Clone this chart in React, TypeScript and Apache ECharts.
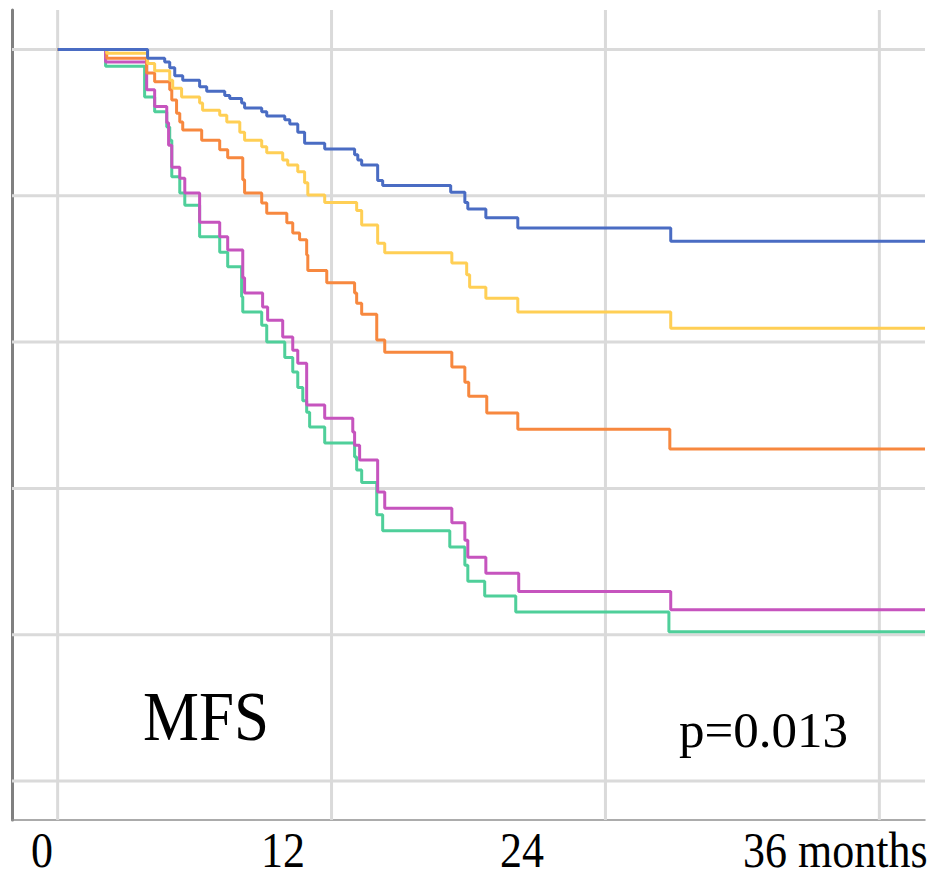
import React, { useEffect, useRef } from "react";
import * as echarts from "echarts";

// ---- data (months, survival probability) ----
const blueTimes = [0, 3.94, 4.69, 4.91, 5.13, 5.48, 6.22, 6.53, 7.32, 7.54, 8.06, 8.19, 8.94, 9.16, 9.95, 10.17, 10.52, 10.82, 11.7, 13.01, 13.15, 13.32, 14.02, 14.24, 17.22, 17.84, 17.97, 18.76, 20.16, 26.86, 38];
const blueSurv = [1, 0.988, 0.983, 0.975, 0.964, 0.958, 0.949, 0.943, 0.937, 0.933, 0.927, 0.92, 0.915, 0.909, 0.904, 0.898, 0.887, 0.872, 0.864, 0.856, 0.849, 0.842, 0.821, 0.814, 0.805, 0.791, 0.782, 0.77, 0.756, 0.738, 0.738];

const yellowTimes = [0, 2.15, 3.94, 4.25, 4.91, 5.04, 5.43, 6.22, 6.35, 7.1, 7.41, 7.98, 8.19, 8.94, 9.16, 9.86, 10.08, 10.52, 10.82, 10.96, 11.7, 13.1, 13.32, 14.02, 14.33, 17.27, 17.92, 18.05, 18.76, 20.16, 26.86, 38];
const yellowSurv = [1, 0.995, 0.981, 0.971, 0.958, 0.947, 0.935, 0.927, 0.917, 0.91, 0.901, 0.887, 0.876, 0.867, 0.859, 0.849, 0.842, 0.833, 0.818, 0.801, 0.791, 0.78, 0.76, 0.735, 0.722, 0.708, 0.692, 0.675, 0.66, 0.641, 0.619, 0.619];

const orangeTimes = [0, 2.15, 3.9, 4.25, 4.91, 5.0, 5.21, 5.35, 5.48, 6.31, 7.1, 7.45, 8.11, 8.19, 8.94, 9.16, 10.04, 10.3, 10.6, 10.91, 10.96, 11.79, 13.01, 13.1, 13.32, 13.98, 14.33, 17.27, 17.84, 18.01, 18.8, 20.16, 26.82, 38];
const orangeSurv = [1, 0.988, 0.968, 0.956, 0.945, 0.931, 0.913, 0.901, 0.89, 0.876, 0.863, 0.852, 0.822, 0.804, 0.79, 0.776, 0.763, 0.749, 0.74, 0.719, 0.698, 0.681, 0.667, 0.653, 0.638, 0.603, 0.586, 0.566, 0.545, 0.526, 0.503, 0.481, 0.454, 0.454];

const magentaTimes = [0, 2.1, 3.9, 4.25, 4.78, 4.86, 5.0, 5.35, 5.57, 6.22, 7.1, 7.45, 8.11, 8.19, 8.98, 9.2, 9.86, 10.3, 10.52, 10.91, 11.7, 12.93, 13.01, 13.23, 14.02, 14.33, 17.27, 17.84, 17.97, 18.76, 20.2, 26.86, 38];
const magentaSurv = [1, 0.983, 0.945, 0.922, 0.9, 0.869, 0.839, 0.824, 0.804, 0.764, 0.744, 0.726, 0.688, 0.667, 0.648, 0.63, 0.607, 0.589, 0.571, 0.514, 0.496, 0.477, 0.459, 0.439, 0.395, 0.373, 0.353, 0.329, 0.306, 0.284, 0.259, 0.234, 0.234];

const greenTimes = [0, 2.1, 3.81, 4.25, 4.78, 4.91, 5.0, 5.35, 5.57, 6.22, 7.1, 7.45, 8.06, 8.11, 8.94, 9.16, 9.95, 10.3, 10.52, 10.74, 10.91, 11.04, 11.7, 13.01, 13.1, 13.32, 13.98, 14.24, 17.18, 17.84, 17.97, 18.71, 20.07, 26.78, 38];
const greenSurv = [1, 0.977, 0.935, 0.915, 0.894, 0.876, 0.826, 0.804, 0.787, 0.744, 0.723, 0.703, 0.662, 0.641, 0.623, 0.6, 0.579, 0.559, 0.538, 0.52, 0.504, 0.484, 0.462, 0.443, 0.425, 0.408, 0.364, 0.342, 0.32, 0.295, 0.273, 0.253, 0.231, 0.204, 0.204];

const xGridValues = [0, 12, 24, 36];
const yGridValues = [0, 0.2, 0.4, 0.6, 0.8, 1.0];
const xTickLabels = ["0", "12", "24", "36 months"];
const titleText = "MFS";
const pValueText = "p=0.013";

// ---- layout / style ----
const X_MIN = -2;
const X_MAX = 38;
const Y_MIN = -0.0533;
const Y_MAX = 1.054;
const labelX = [42, 283, 522, 743];
const labelAlign = ["center", "center", "center", "left"];

const curves = [
  { name: "green", t: greenTimes, s: greenSurv, color: "#4fcf9a" },
  { name: "magenta", t: magentaTimes, s: magentaSurv, color: "#c654be" },
  { name: "orange", t: orangeTimes, s: orangeSurv, color: "#f7883f" },
  { name: "yellow", t: yellowTimes, s: yellowSurv, color: "#ffcf55" },
  { name: "blue", t: blueTimes, s: blueSurv, color: "#4a6cc3" },
];

const SERIF = '"Liberation Serif", "Times New Roman", serif';

export default function App() {
  const ref = useRef<HTMLDivElement>(null);

  useEffect(() => {
    if (!ref.current) return;
    const chart = echarts.init(ref.current, null, { renderer: "svg" });

    const gridSeries: any[] = [];
    xGridValues.forEach((v, i) => {
      gridSeries.push({
        type: "line",
        name: "vgrid" + i,
        data: [
          [v, Y_MIN],
          [v, Y_MAX],
        ],
        showSymbol: false,
        silent: true,
        z: 1,
        lineStyle: { color: "#dadada", width: 3 },
      });
    });
    yGridValues.forEach((v, i) => {
      gridSeries.push({
        type: "line",
        name: "hgrid" + i,
        data: [
          [X_MIN, v],
          [X_MAX, v],
        ],
        showSymbol: false,
        silent: true,
        z: 1,
        lineStyle: { color: "#dadada", width: 3 },
      });
    });

    const curveSeries = curves.map((c, i) => ({
      type: "line",
      name: c.name,
      step: "end",
      data: c.t.map((t, j) => [t, c.s[j]]),
      showSymbol: false,
      silent: true,
      z: 3 + i,
      lineStyle: { color: c.color, width: 3 },
    }));

    const graphics: any[] = xTickLabels.map((txt, i) => ({
      type: "text",
      x: labelX[i],
      y: 850,
      scaleY: 1.15,
      style: {
        text: txt,
        font: `44px ${SERIF}`,
        fill: "#000",
        textAlign: labelAlign[i],
        textVerticalAlign: "middle",
        align: labelAlign[i],
        verticalAlign: "middle",
      },
    }));
    graphics.push({
      type: "text",
      x: 206,
      y: 716,
      scaleY: 1.12,
      style: {
        text: titleText,
        font: `63px ${SERIF}`,
        fill: "#000",
        textAlign: "center",
        textVerticalAlign: "middle",
        align: "center",
        verticalAlign: "middle",
      },
    });
    graphics.push({
      type: "text",
      x: 679,
      y: 730,
      style: {
        text: pValueText,
        font: `51px ${SERIF}`,
        fill: "#000",
        textAlign: "left",
        textVerticalAlign: "middle",
        align: "left",
        verticalAlign: "middle",
      },
    });

    chart.setOption({
      animation: false,
      backgroundColor: "#ffffff",
      grid: { left: 12, top: 10, right: 9, bottom: 59, containLabel: false },
      xAxis: {
        type: "value",
        min: X_MIN,
        max: X_MAX,
        splitLine: { show: false },
        axisTick: { show: false },
        axisLabel: { show: false },
        axisLine: { show: true, onZero: false, lineStyle: { color: "#909090", width: 1.5 } },
      },
      yAxis: {
        type: "value",
        min: Y_MIN,
        max: Y_MAX,
        splitLine: { show: false },
        axisTick: { show: false },
        axisLabel: { show: false },
        axisLine: { show: true, onZero: false, lineStyle: { color: "#808080", width: 3 } },
      },
      series: [...gridSeries, ...curveSeries],
      graphic: graphics,
    });

    return () => chart.dispose();
  }, []);

  return (
    <div
      ref={ref}
      style={{ position: "absolute", left: 0, top: 0, width: 934, height: 879, background: "#fff" }}
    />
  );
}
